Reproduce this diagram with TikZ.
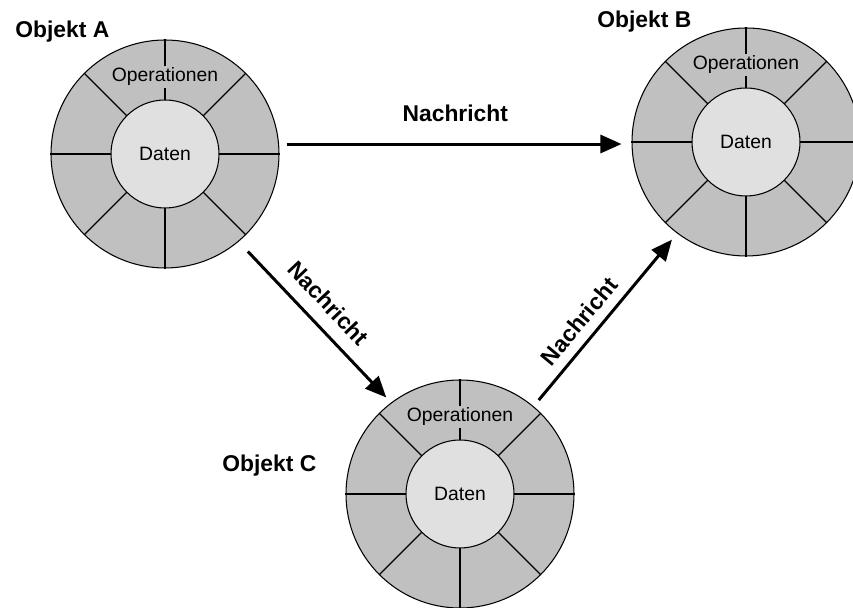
\documentclass[tikz,border=0pt]{standalone}
\usepackage{fontspec}
\setmainfont{Liberation Sans}
\usetikzlibrary{positioning,arrows.meta,calc}
\definecolor{RingGray}{RGB}{192,192,192}
\definecolor{CoreGray}{RGB}{224,224,224}

\begin{document}
\begin{tikzpicture}[font=\fontsize{11}{13}\selectfont,
  ring/.style={draw, circle, fill=RingGray, minimum size=4.56cm, inner sep=0pt, line width=0.6pt},
  core/.style={draw, circle, fill=CoreGray, minimum size=2.16cm, inner sep=0pt, line width=0.6pt},
  ops/.style={fill=RingGray, inner sep=1pt},
  spoke/.style={line width=0.7pt},
  msg/.style={-{Triangle[length=0.42cm, width=0.36cm]}, line width=1.7pt},
  msglabel/.style={font=\fontsize{13}{15}\selectfont\bfseries, inner sep=0pt},
  title/.style={font=\fontsize{13}{15}\selectfont\bfseries, anchor=base west, inner sep=0pt}]
  \useasboundingbox (0,0) rectangle (17.06,12.16);
  % Objekt A
  \node[ring] (ringA) at (3.30,9.08) {};
  \foreach \a in {0,45,...,315}
    \draw[spoke] (ringA.center) -- (ringA.\a);
  \node[core] (coreA) at (ringA.center) {Daten};
  \node[ops] (opsA) at ($(ringA.center)+(0,1.54)$) {Operationen};
  \node[title] (titleA) at (0.30,11.40) {Objekt A};
  % Objekt B
  \node[ring] (ringB) at (14.92,9.32) {};
  \foreach \a in {0,45,...,315}
    \draw[spoke] (ringB.center) -- (ringB.\a);
  \node[core] (coreB) at (ringB.center) {Daten};
  \node[ops] (opsB) at ($(ringB.center)+(0,1.54)$) {Operationen};
  \node[title] (titleB) at (11.94,11.60) {Objekt B};
  % Objekt C
  \node[ring] (ringC) at (9.20,2.28) {};
  \foreach \a in {0,45,...,315}
    \draw[spoke] (ringC.center) -- (ringC.\a);
  \node[core] (coreC) at (ringC.center) {Daten};
  \node[ops] (opsC) at ($(ringC.center)+(0,1.54)$) {Operationen};
  \node[title] (titleC) at (4.44,2.72) {Objekt C};
  % Nachrichten
  \draw[msg, shorten <=0.15cm, shorten >=0.2cm] (ringA.5) -- (ringA.5 -| ringB.west)
    node[msglabel, midway, above=0.41cm] (msgAB) {Nachricht};
  \draw[msg, shorten <=0.27cm, shorten >=0.14cm] (ringA.310) -- (ringC.127)
    node[msglabel, pos=0.48, sloped, above=0.26cm] (msgAC) {Nachricht};
  \draw[msg, shorten <=0.16cm, shorten >=0.16cm] (ringC.50) -- (ringB.233)
    node[msglabel, pos=0.42, sloped, above=0.19cm] (msgCB) {Nachricht};
\end{tikzpicture}
\end{document}
